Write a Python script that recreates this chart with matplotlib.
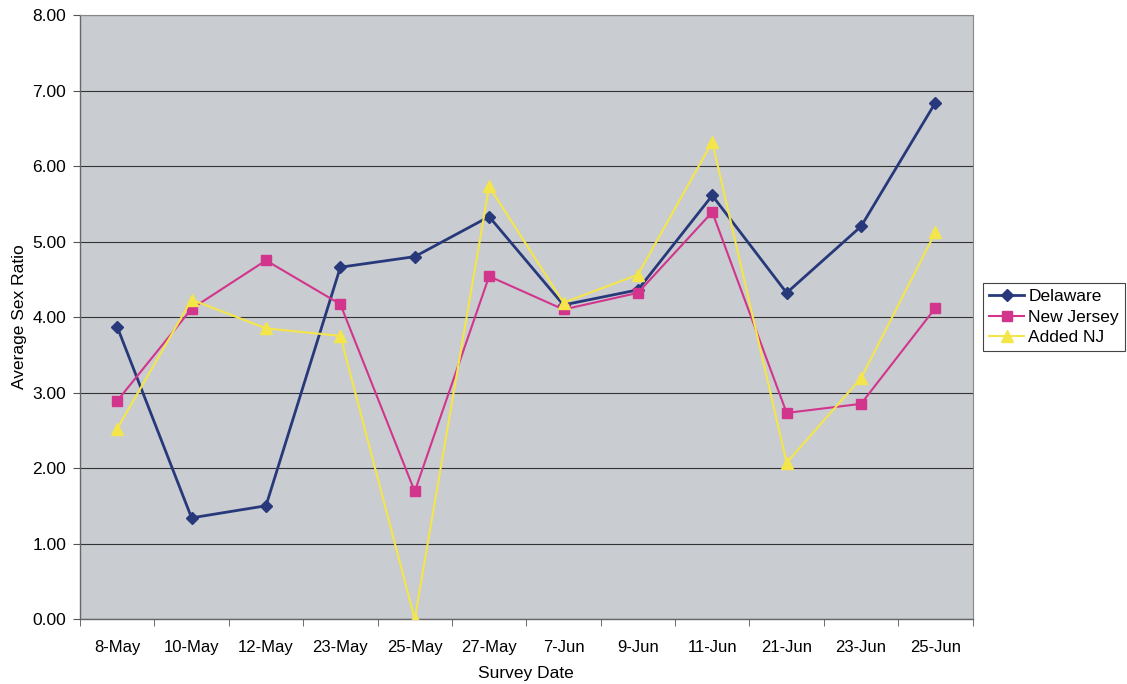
import numpy as np
import matplotlib
matplotlib.use("Agg")
import matplotlib.pyplot as plt

plt.rcParams['font.family'] = ['Liberation Sans', 'DejaVu Sans']

dates = ['8-May', '10-May', '12-May', '23-May', '25-May', '27-May',
         '7-Jun', '9-Jun', '11-Jun', '21-Jun', '23-Jun', '25-Jun']
delaware = [3.87, 1.34, 1.50, 4.66, 4.80, 5.33, 4.16, 4.36, 5.61, 4.32, 5.20, 6.84]
new_jersey = [2.89, 4.11, 4.75, 4.17, 1.69, 4.54, 4.10, 4.32, 5.39, 2.73, 2.85, 4.12]
added_nj = [2.52, 4.23, 3.85, 3.75, 0.00, 5.73, 4.19, 4.56, 6.32, 2.07, 3.19, 5.12]

fig = plt.figure(figsize=(11.27, 6.84), dpi=100)
ax = fig.add_axes([0.071, 0.095, 0.792, 0.883])
ax.set_facecolor('#c9ccd1')

x = np.arange(len(dates))
ax.plot(x, delaware, color='#27397a', marker='D', markersize=6, linewidth=2, label='Delaware', zorder=3)
ax.plot(x, new_jersey, color='#d2358c', marker='s', markersize=7, linewidth=1.5, label='New Jersey', zorder=3)
ax.plot(x, added_nj, color='#f4e64a', marker='^', markersize=8, linewidth=1.5, label='Added NJ', zorder=3)

ax.set_xlim(-0.5, len(dates) - 0.5)
ax.set_ylim(0, 8)
ax.set_yticks(np.arange(0, 9, 1))
ax.set_yticklabels([f'{v:.2f}' for v in range(9)], fontsize=12.5)
ax.set_xticks(x)
ax.set_xticklabels(dates, fontsize=12)
ax.tick_params(axis='x', length=0, pad=15)
ax.set_xticks(np.arange(-0.5, len(dates), 1), minor=True)
ax.tick_params(axis='x', which='minor', length=5, direction='out', color='#555555')
ax.tick_params(axis='y', length=5, direction='out', color='#555555', pad=5)

ax.grid(axis='y', color='#333333', linewidth=0.8)
ax.set_axisbelow(True)
for side in ['top', 'right']:
    ax.spines[side].set_color('#888888')
    ax.spines[side].set_linewidth(0.8)
for side in ['left', 'bottom']:
    ax.spines[side].set_color('#666666')
    ax.spines[side].set_linewidth(1.0)

ax.set_xlabel('Survey Date', fontsize=12.5, labelpad=8)
ax.set_ylabel('Average Sex Ratio', fontsize=12.5, labelpad=4)

leg = ax.legend(loc='center left', bbox_to_anchor=(1.006, 0.5), fontsize=12.5,
                frameon=True, fancybox=False, edgecolor='#444444', framealpha=1,
                handlelength=2.0, handletextpad=0.25, borderpad=0.35, labelspacing=0.3,
                borderaxespad=0.3)
leg.get_frame().set_linewidth(0.8)

fig.savefig('out.png', dpi=100)
